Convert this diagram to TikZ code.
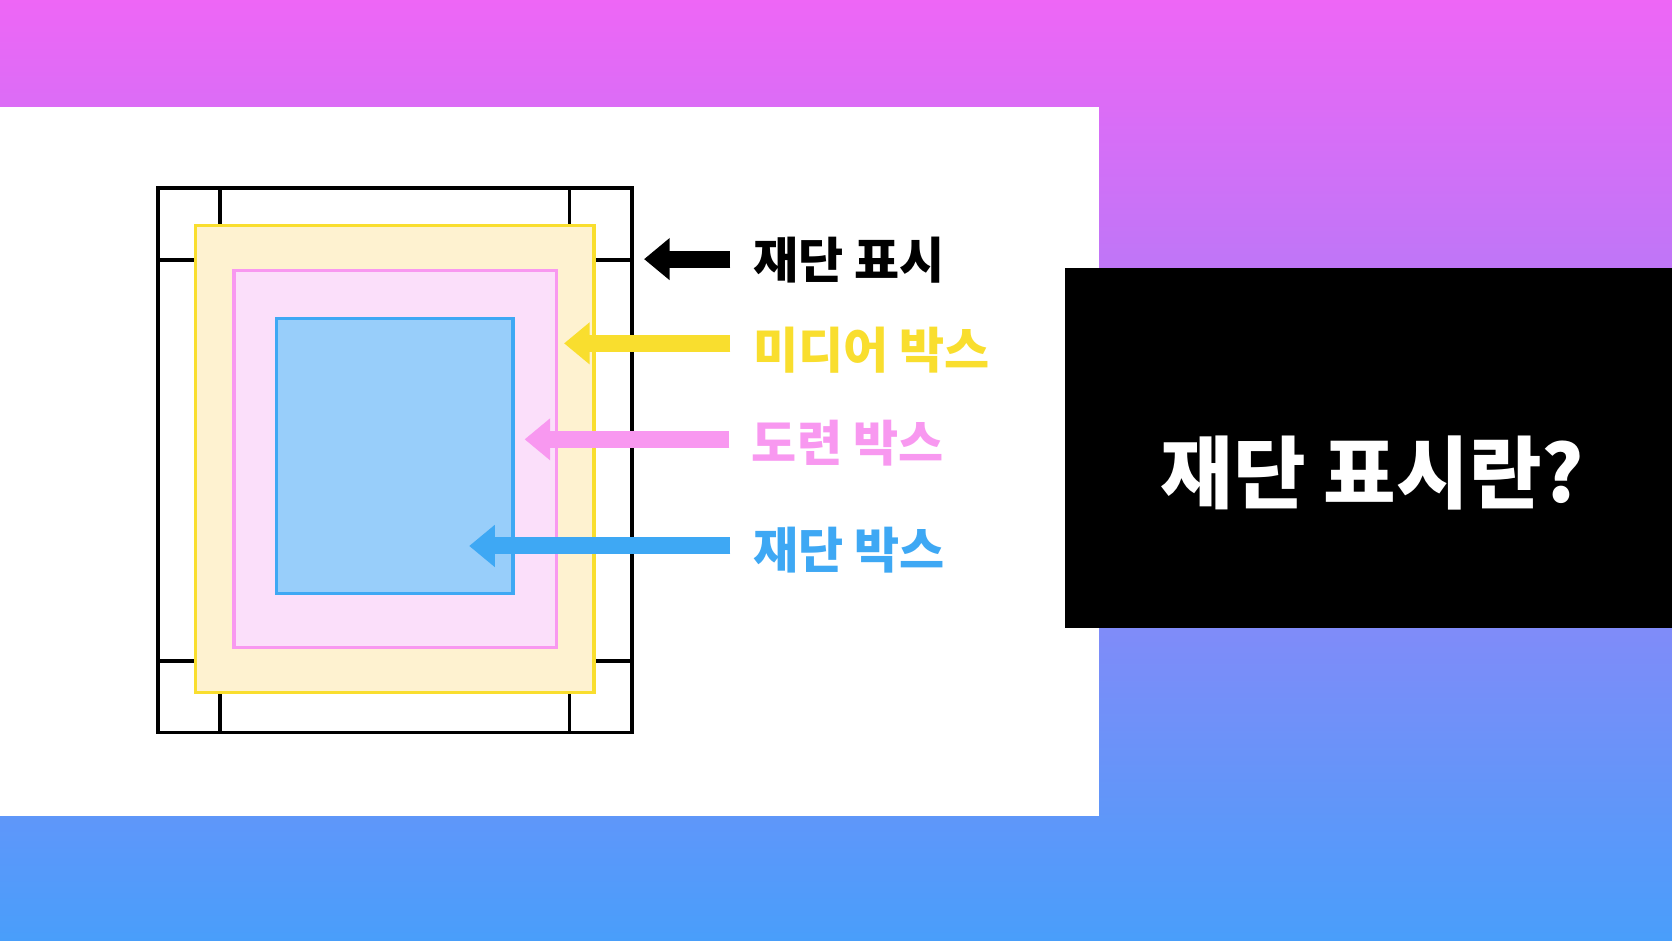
\documentclass[tikz,border=0pt]{standalone}
\usepackage{fontspec}
\newfontfamily\kofont{Noto Sans CJK KR}
\usetikzlibrary{arrows.meta,positioning}
\definecolor{bgtop}{RGB}{238,102,246}
\definecolor{bgbot}{RGB}{73,158,250}
\definecolor{mediay}{RGB}{249,222,46}
\definecolor{mediafill}{RGB}{254,242,208}
\definecolor{bleedp}{RGB}{248,152,240}
\definecolor{bleedfill}{RGB}{251,223,250}
\definecolor{trimb}{RGB}{62,168,244}
\definecolor{trimfill}{RGB}{152,206,250}
\tikzset{boxline/.style={line width=3pt}, markline/.style={black,line width=3.5pt},
  arr/.style={line width=16pt,-{Triangle[length=24pt,width=38pt]},shorten <=21pt},
  lbl/.style={anchor=west,inner sep=0pt,font=\kofont\bfseries\fontsize{46}{46}\selectfont}}

\begin{document}
\begin{tikzpicture}[x=1pt,y=-1pt]
   \useasboundingbox (0,0) rectangle (1568,882);
   \shade[top color=bgtop,bottom color=bgbot] (0,0) rectangle (1568,882);
   \fill[white] (0,100) rectangle (1031,765);
   \begin{scope}
    % crop marks
    \draw[markline] (148,176) rectangle (593,687);
    \draw[markline] (206,176) -- (206,215) (534,176) -- (534,215);
    \draw[markline] (206,645) -- (206,687) (534,645) -- (534,687);
    \draw[markline] (148,244) -- (188,244) (552,244) -- (593,244);
    \draw[markline] (148,620) -- (188,620) (552,620) -- (593,620);
    % boxes
    \draw[boxline,mediay,fill=mediafill] (183.5,211.5) rectangle (557,649.5);
    \draw[boxline,bleedp,fill=bleedfill] (219.5,253.5) rectangle (522,607.5);
    \draw[boxline,trimb,fill=trimfill] (259.5,298.5) rectangle (481,556.5);
   \end{scope}
   \coordinate (marktip)  at (604,243);
   \coordinate (mediatip) at (529,322);
   \coordinate (bleedtip) at (492,412);
   \coordinate (trimtip)  at (440,512);
   \node[lbl,black]  (mark)  at (706,244) {재단 표시};
   \node[lbl,mediay] (media) at (706,328) {미디어 박스};
   \node[lbl,bleedp] (bleed) at (705,416) {도련 박스};
   \node[lbl,trimb]  (trim)  at (706,516) {재단 박스};
   \draw[arr,black]  (mark.west |- marktip)   -- (marktip);
   \draw[arr,mediay] (media.west |- mediatip) -- (mediatip);
   \draw[arr,bleedp] (bleed.west |- bleedtip) -- (bleedtip);
   \draw[arr,trimb]  (trim.west |- trimtip)   -- (trimtip);
   \fill[black] (999,251) rectangle (1568,589);
   \node[white,font=\kofont\bfseries\fontsize{74}{74}\selectfont] (title) at (1287,444) {재단 표시란?};
  \end{tikzpicture}
\end{document}
